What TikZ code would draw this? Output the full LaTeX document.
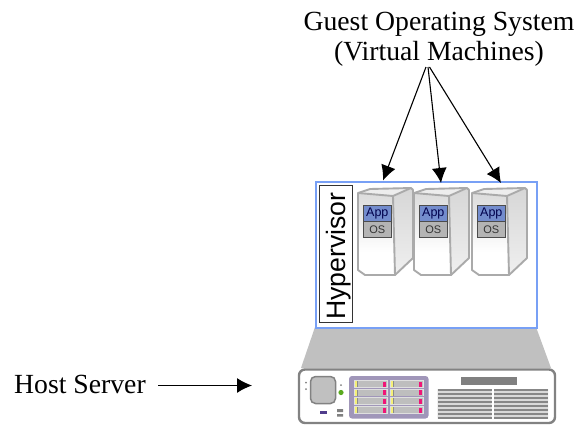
\documentclass[tikz,border=0pt]{standalone}
\usepackage{fontspec}
\setmainfont{Liberation Serif}
\newfontfamily\hvfont{Liberation Sans}
\usetikzlibrary{arrows.meta,calc}
\definecolor{frameblue}{RGB}{120,160,245}
\definecolor{platform}{RGB}{192,192,192}
\definecolor{srvline}{RGB}{170,170,170}
\definecolor{srvdark}{RGB}{130,130,130}
\definecolor{appblue}{RGB}{115,140,205}
\definecolor{osgray}{RGB}{180,180,180}
\definecolor{bay}{RGB}{160,150,185}
\definecolor{slotgray}{RGB}{190,190,190}
\definecolor{ventgray}{RGB}{135,135,135}
\definecolor{ledpink}{RGB}{240,20,120}
\definecolor{ledyellow}{RGB}{245,240,120}
\definecolor{ledgreen}{RGB}{90,170,30}
\definecolor{btnpurple}{RGB}{80,60,140}
\tikzset{
  x=1pt,y=-1pt,
  lbl/.style={font=\fontsize{27.7}{30}\selectfont,align=center,inner sep=0pt},
  ptr/.style={-{Latex[length=15pt,width=15pt]},line width=1.1pt},
  vmline/.style={draw=srvline,line width=1.9pt,line join=round},
  apptxt/.style={font=\hvfont\fontsize{12.5}{12.5}\selectfont,text=black!70!blue,inner sep=0pt},
  ostxt/.style={font=\hvfont\fontsize{11}{11}\selectfont,text=black!80,inner sep=0pt},
}
\newcommand{\vmsrv}[2]{% x offset, name
  \begin{scope}[shift={(#1,0)}]
    \fill[white] (0,193) -- (12,189) -- (55,188) -- (55,258) -- (37,275) -- (7,275) -- (0,270) -- cycle;
    \shade[top color=black!14,bottom color=white] (0,193) -- (35,196) -- (36,252) -- (0,252) -- cycle;
    \shade[top color=black!16,bottom color=black!6] (35,196) -- (55,188) -- (55,258) -- (37,275) -- cycle;
    \fill[black!7] (0,193) -- (12,189) -- (55,188) -- (35,196) -- cycle;
    \draw[vmline] (0,193) -- (12,189) -- (53,188) -- (55,190) -- (55,258) -- (37,275) -- (7,275) -- (0,270) -- cycle;
    \draw[vmline] (0,193) -- (35,196) -- (53,188);
    \draw[vmline] (35,196) -- (37,275);
    \node[draw=black!70,fill=appblue,minimum width=28pt,minimum height=16pt,inner sep=0pt,line width=.6pt,anchor=north west,apptxt] (#2app) at (5,205) {App};
    \node[draw=black!70,fill=osgray,minimum width=28pt,minimum height=16pt,inner sep=0pt,line width=.6pt,anchor=north west,ostxt] (#2os) at (5,221) {OS};
  \end{scope}
}
\begin{document}
\begin{tikzpicture}
\useasboundingbox (0,0) rectangle (578,424);
\fill[white] (0,0) rectangle (578,424);
% platform
\fill[platform] (315,327) -- (536,327) -- (551,368) -- (301,368) -- cycle;
% hypervisor frame
\node[draw=frameblue,line width=1.9pt,fill=white,minimum width=221pt,minimum height=146pt,inner sep=0pt,anchor=north west] (frame) at (315,181) {};
\node[draw=black!80,line width=.8pt,fill=white,minimum width=33pt,minimum height=137pt,inner sep=0pt,anchor=north west] (hvbox) at (319,185) {};
\node[rotate=90,font=\hvfont\fontsize{26.6}{26.6}\selectfont,inner sep=0pt,anchor=base] (hv) at (345,256) {Hypervisor};
% guests
\vmsrv{358}{vma}
\vmsrv{414}{vmb}
\vmsrv{472}{vmc}
% labels
\node[lbl] (guest) at (439,39.5) {Guest Operating System\\(Virtual Machines)};
\node[lbl,anchor=base west] (host) at (14,393) {Host Server};
\coordinate (gsa) at (426,67);
\coordinate (gsb) at (428,67);
\coordinate (gsc) at (429.5,67);
\coordinate (ta) at (383,180.5);
\coordinate (tb) at (441,183);
\coordinate (tc) at (501,183);
\draw[ptr] (gsa) -- (ta);
\draw[ptr] (gsb) -- (tb);
\draw[ptr] (gsc) -- (tc);
\coordinate (hoststart) at (158,385.5);
\coordinate (hosttip) at (252,385.5);
\draw[ptr] (hoststart) -- (hosttip);
% host server
\begin{scope}
\clip (296,366) rectangle (560,424);
\draw[draw=srvdark,line width=2.4pt,fill=white,rounded corners=6pt] (299,369.5) rectangle (555,423);
\draw[draw=srvdark,line width=1.5pt,fill=platform,rounded corners=5pt] (310.5,376.5) rectangle (335.5,403.5);
\fill[black!50] (306,382.5) circle (1pt) (306,389) circle (1pt) (341,385) circle (1pt);
\fill[ledgreen] (341,392.5) circle (2.6pt);
\fill[btnpurple] (320,411) rectangle (327,414);
\fill[black!50] (337,409) rectangle (343,412) (337,414) rectangle (343,416.5);
\fill[bay,rounded corners=3pt] (349,376) rectangle (428.5,418.5);
\foreach \yy in {381,389.5,398,407}{
  \foreach \xx in {355,391}{
    \fill[slotgray!50!white] (\xx-.7,\yy-.7) rectangle ++(33.4,7.4);
    \fill[slotgray] (\xx,\yy) rectangle ++(32,6);
    \fill[ledyellow] (\xx,\yy) rectangle ++(2,6);
    \fill[black!45] (\xx+2,\yy) rectangle ++(1,6);
    \fill[ledpink] (\xx+28,\yy+.5) rectangle ++(2.8,5);
  }
}
\fill[black!50] (461,377) rectangle (517,385);
\fill[black!15] (437.5,389) rectangle (491.5,418.5) (494,389) rectangle (548,418.5);
\foreach \yy in {389,393,397,401,405,409,413,416.5}{
  \fill[ventgray] (437.5,\yy) rectangle ++(54,2);
  \fill[ventgray] (494,\yy) rectangle ++(54,2);
}
\end{scope}
\end{tikzpicture}
\end{document}
